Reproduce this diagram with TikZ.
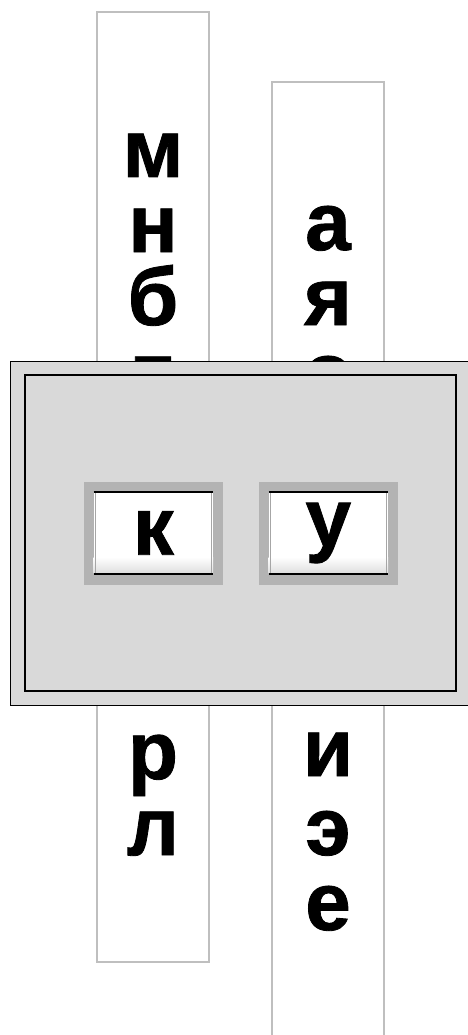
\documentclass[tikz,border=0pt]{standalone}
\usepackage{fontspec}
\setmainfont{Liberation Sans}[BoldFeatures={FakeBold=1}]
\usetikzlibrary{positioning,calc}
\definecolor{panelgray}{HTML}{D9D9D9}
\definecolor{framegray}{HTML}{B3B3B3}
\definecolor{stripgray}{HTML}{BFBFBF}

\begin{document}
\begin{tikzpicture}[
  x=1pt, y=-1pt,
  every node/.style={font=\fontsize{82pt}{82pt}\selectfont\bfseries, inner sep=0pt},
  strip/.style={draw=stripgray, line width=1.5pt, fill=white, minimum width=112pt},
  letter/.style={anchor=base},
  btnframe/.style={fill=framegray, minimum width=139pt, minimum height=103pt},
  btnface/.style={fill=white, minimum width=119pt, minimum height=82pt},
  btnedge/.style={line width=2.2pt},
]
\useasboundingbox (0,0) rectangle (467,1035);
% Strips behind the panel
\node[strip, minimum height=950pt] (left) at (153,487) {};
\node[strip, minimum height=965pt] (right) at (328,564.5) {};
% Letters on the strips (baselines in px)
\foreach \ch/\y [count=\i] in {м/177, н/252, б/325, т/400, р/779, л/855}
  \node[letter] (left\i) at (153,\y) {\ch};
\foreach \ch/\y [count=\i] in {а/250, я/325, о/400, и/776, э/855, е/930}
  \node[letter] (right\i) at (328,\y) {\ch};
% Panel over the strips
\node[draw, line width=1pt, fill=panelgray, minimum width=461pt, minimum height=344pt] (panel) at (240.5,533) {};
\node[draw, line width=2.5pt, minimum width=431pt, minimum height=316pt] (inner) at (panel) {};
% Buttons
\foreach \ch/\x/\nm in {к/153.3/k, у/328.3/u} {
  \node[btnframe] (\nm frame) at (\x,533) {};
  \node[btnface] (\nm face) at (\nm frame) {};
  \shade[top color=white, bottom color=black!13] ([yshift=1pt]\nm face.south west) rectangle ([yshift=17pt]\nm face.south east);
  \draw[black!35, line width=0.8pt] ([xshift=2pt]\nm face.north west) -- ([xshift=2pt]\nm face.south west);
  \draw[black!35, line width=0.8pt] ([xshift=-2pt]\nm face.north east) -- ([xshift=-2pt]\nm face.south east);
  \draw[btnedge] (\nm face.north west) -- (\nm face.north east);
  \draw[btnedge] (\nm face.south west) -- (\nm face.south east);
  \node (\nm char) at (\nm face) {\ch};
}
\end{tikzpicture}
\end{document}
